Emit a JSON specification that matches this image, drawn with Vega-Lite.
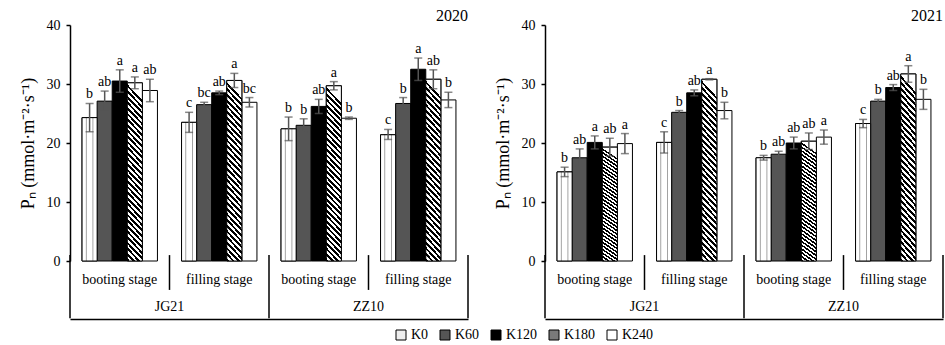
{
  "$schema": "https://vega.github.io/schema/vega-lite/v6.json",
  "padding": {"left": 19, "top": 8, "right": 0, "bottom": 0},
  "data": {"values": [
    {"year": "2020", "group": "JG21 booting", "cultivar": "JG21", "stage": "booting stage", "K": "K0", "mean": 24.3, "lo": 21.9, "hi": 26.7, "sig": "b"},
    {"year": "2020", "group": "JG21 booting", "cultivar": "JG21", "stage": "booting stage", "K": "K60", "mean": 27.1, "lo": 25.4, "hi": 28.8, "sig": "ab"},
    {"year": "2020", "group": "JG21 booting", "cultivar": "JG21", "stage": "booting stage", "K": "K120", "mean": 30.5, "lo": 28.6, "hi": 32.4, "sig": "a"},
    {"year": "2020", "group": "JG21 booting", "cultivar": "JG21", "stage": "booting stage", "K": "K180", "mean": 30.2, "lo": 29.2, "hi": 31.2, "sig": "a"},
    {"year": "2020", "group": "JG21 booting", "cultivar": "JG21", "stage": "booting stage", "K": "K240", "mean": 28.9, "lo": 27.0, "hi": 30.8, "sig": "ab"},
    {"year": "2020", "group": "JG21 filling", "cultivar": "JG21", "stage": "filling stage", "K": "K0", "mean": 23.5, "lo": 21.8, "hi": 25.2, "sig": "c"},
    {"year": "2020", "group": "JG21 filling", "cultivar": "JG21", "stage": "filling stage", "K": "K60", "mean": 26.5, "lo": 26.1, "hi": 26.9, "sig": "bc"},
    {"year": "2020", "group": "JG21 filling", "cultivar": "JG21", "stage": "filling stage", "K": "K120", "mean": 28.5, "lo": 28.2, "hi": 28.8, "sig": "ab"},
    {"year": "2020", "group": "JG21 filling", "cultivar": "JG21", "stage": "filling stage", "K": "K180", "mean": 30.6, "lo": 29.4, "hi": 31.8, "sig": "a"},
    {"year": "2020", "group": "JG21 filling", "cultivar": "JG21", "stage": "filling stage", "K": "K240", "mean": 26.9, "lo": 26.1, "hi": 27.7, "sig": "bc"},
    {"year": "2020", "group": "ZZ10 booting", "cultivar": "ZZ10", "stage": "booting stage", "K": "K0", "mean": 22.4, "lo": 20.4, "hi": 24.4, "sig": "b"},
    {"year": "2020", "group": "ZZ10 booting", "cultivar": "ZZ10", "stage": "booting stage", "K": "K60", "mean": 23.0, "lo": 21.9, "hi": 24.1, "sig": "b"},
    {"year": "2020", "group": "ZZ10 booting", "cultivar": "ZZ10", "stage": "booting stage", "K": "K120", "mean": 26.2, "lo": 25.0, "hi": 27.4, "sig": "ab"},
    {"year": "2020", "group": "ZZ10 booting", "cultivar": "ZZ10", "stage": "booting stage", "K": "K180", "mean": 29.7, "lo": 29.0, "hi": 30.4, "sig": "a"},
    {"year": "2020", "group": "ZZ10 booting", "cultivar": "ZZ10", "stage": "booting stage", "K": "K240", "mean": 24.2, "lo": 24.0, "hi": 24.4, "sig": "b"},
    {"year": "2020", "group": "ZZ10 filling", "cultivar": "ZZ10", "stage": "filling stage", "K": "K0", "mean": 21.4, "lo": 20.6, "hi": 22.3, "sig": "c"},
    {"year": "2020", "group": "ZZ10 filling", "cultivar": "ZZ10", "stage": "filling stage", "K": "K60", "mean": 26.7, "lo": 25.7, "hi": 27.7, "sig": "b"},
    {"year": "2020", "group": "ZZ10 filling", "cultivar": "ZZ10", "stage": "filling stage", "K": "K120", "mean": 32.5, "lo": 30.6, "hi": 34.4, "sig": "a"},
    {"year": "2020", "group": "ZZ10 filling", "cultivar": "ZZ10", "stage": "filling stage", "K": "K180", "mean": 30.8, "lo": 29.2, "hi": 32.4, "sig": "ab"},
    {"year": "2020", "group": "ZZ10 filling", "cultivar": "ZZ10", "stage": "filling stage", "K": "K240", "mean": 27.3, "lo": 26.0, "hi": 28.6, "sig": "b"},
    {"year": "2021", "group": "JG21 booting", "cultivar": "JG21", "stage": "booting stage", "K": "K0", "mean": 15.1, "lo": 14.3, "hi": 15.9, "sig": "b"},
    {"year": "2021", "group": "JG21 booting", "cultivar": "JG21", "stage": "booting stage", "K": "K60", "mean": 17.5, "lo": 16.0, "hi": 19.0, "sig": "ab"},
    {"year": "2021", "group": "JG21 booting", "cultivar": "JG21", "stage": "booting stage", "K": "K120", "mean": 20.1, "lo": 19.0, "hi": 21.2, "sig": "a"},
    {"year": "2021", "group": "JG21 booting", "cultivar": "JG21", "stage": "booting stage", "K": "K180", "mean": 19.3, "lo": 17.8, "hi": 20.8, "sig": "ab"},
    {"year": "2021", "group": "JG21 booting", "cultivar": "JG21", "stage": "booting stage", "K": "K240", "mean": 19.9, "lo": 18.2, "hi": 21.6, "sig": "a"},
    {"year": "2021", "group": "JG21 filling", "cultivar": "JG21", "stage": "filling stage", "K": "K0", "mean": 20.1, "lo": 18.3, "hi": 21.9, "sig": "c"},
    {"year": "2021", "group": "JG21 filling", "cultivar": "JG21", "stage": "filling stage", "K": "K60", "mean": 25.2, "lo": 24.9, "hi": 25.5, "sig": "b"},
    {"year": "2021", "group": "JG21 filling", "cultivar": "JG21", "stage": "filling stage", "K": "K120", "mean": 28.5, "lo": 28.0, "hi": 29.0, "sig": "ab"},
    {"year": "2021", "group": "JG21 filling", "cultivar": "JG21", "stage": "filling stage", "K": "K180", "mean": 30.8, "lo": 30.7, "hi": 30.9, "sig": "a"},
    {"year": "2021", "group": "JG21 filling", "cultivar": "JG21", "stage": "filling stage", "K": "K240", "mean": 25.5, "lo": 24.1, "hi": 26.9, "sig": "b"},
    {"year": "2021", "group": "ZZ10 booting", "cultivar": "ZZ10", "stage": "booting stage", "K": "K0", "mean": 17.5, "lo": 17.1, "hi": 17.9, "sig": "b"},
    {"year": "2021", "group": "ZZ10 booting", "cultivar": "ZZ10", "stage": "booting stage", "K": "K60", "mean": 18.1, "lo": 17.6, "hi": 18.6, "sig": "ab"},
    {"year": "2021", "group": "ZZ10 booting", "cultivar": "ZZ10", "stage": "booting stage", "K": "K120", "mean": 20.0, "lo": 19.0, "hi": 21.0, "sig": "ab"},
    {"year": "2021", "group": "ZZ10 booting", "cultivar": "ZZ10", "stage": "booting stage", "K": "K180", "mean": 20.3, "lo": 18.9, "hi": 21.7, "sig": "ab"},
    {"year": "2021", "group": "ZZ10 booting", "cultivar": "ZZ10", "stage": "booting stage", "K": "K240", "mean": 21.0, "lo": 19.8, "hi": 22.2, "sig": "a"},
    {"year": "2021", "group": "ZZ10 filling", "cultivar": "ZZ10", "stage": "filling stage", "K": "K0", "mean": 23.3, "lo": 22.6, "hi": 24.0, "sig": "c"},
    {"year": "2021", "group": "ZZ10 filling", "cultivar": "ZZ10", "stage": "filling stage", "K": "K60", "mean": 27.1, "lo": 26.8, "hi": 27.4, "sig": "b"},
    {"year": "2021", "group": "ZZ10 filling", "cultivar": "ZZ10", "stage": "filling stage", "K": "K120", "mean": 29.4, "lo": 28.9, "hi": 29.9, "sig": "ab"},
    {"year": "2021", "group": "ZZ10 filling", "cultivar": "ZZ10", "stage": "filling stage", "K": "K180", "mean": 31.7, "lo": 30.3, "hi": 33.1, "sig": "a"},
    {"year": "2021", "group": "ZZ10 filling", "cultivar": "ZZ10", "stage": "filling stage", "K": "K240", "mean": 27.4, "lo": 25.7, "hi": 29.1, "sig": "b"}
  ]},
  "facet": {"column": {"field": "year", "type": "nominal", "header": {"title": null, "labelAnchor": "end", "labelFont": "Liberation Serif", "labelFontSize": 16, "labelColor": "black", "labelPadding": -6}}},
  "spacing": {"column": 25},
  "resolve": {"axis": {"y": "independent"}},
  "spec": {
    "width": 398,
    "height": 236,
    "layer": [
      {
        "mark": {"type": "bar", "stroke": "black", "strokeWidth": 1},
        "encoding": {
          "x": {"field": "group", "type": "nominal", "sort": ["JG21 booting", "JG21 filling", "ZZ10 booting", "ZZ10 filling"], "scale": {"paddingInner": 0, "paddingOuter": 0}, "axis": {"title": null, "labels": false, "ticks": false, "domainColor": "black", "domainWidth": 1.5}},
          "xOffset": {"field": "K", "type": "nominal", "sort": ["K0", "K60", "K120", "K180", "K240"], "scale": {"paddingInner": 0, "paddingOuter": 0.8}},
          "y": {"field": "mean", "type": "quantitative", "scale": {"domain": [0, 40], "nice": false}, "axis": {"title": "Pₙ (mmol·m⁻²·s⁻¹)", "values": [0, 10, 20, 30, 40], "tickSize": 4, "tickWidth": 1.5, "tickColor": "black", "domainColor": "black", "domainWidth": 1.5, "grid": false, "labelFont": "Liberation Serif", "labelFontSize": 14, "labelColor": "black", "labelPadding": 6, "titleFont": "Liberation Serif", "titleFontSize": 18, "titleFontWeight": "normal", "titleColor": "black", "titlePadding": 9}},
          "fill": {"field": "K", "type": "nominal", "scale": {"domain": ["K0", "K60", "K120", "K180", "K240"], "range": ["#eeeeee", "#555555", "#000000", "#7a7a7a", "#ffffff"]}, "legend": {"title": null, "orient": "none", "legendX": 324, "legendY": 303, "direction": "horizontal", "symbolType": "square", "symbolSize": 100, "symbolStrokeColor": "black", "symbolStrokeWidth": 1, "symbolOpacity": 1, "labelFont": "Liberation Serif", "labelFontSize": 14, "labelColor": "black", "columnPadding": 9, "labelOffset": 3}}
        }
      },
      {
        "transform": [{"filter": "datum.K === 'K0'"}],
        "mark": {"type": "bar", "stroke": "black", "strokeWidth": 1, "fill": {"gradient": "linear", "x1": 0, "y1": 0, "x2": 1, "y2": 0, "stops": [
              {"offset": 0, "color": "#ffffff"}, {"offset": 0.22, "color": "#ffffff"}, {"offset": 0.28, "color": "#999999"}, {"offset": 0.34, "color": "#ffffff"},
              {"offset": 0.66, "color": "#ffffff"}, {"offset": 0.72, "color": "#999999"}, {"offset": 0.78, "color": "#ffffff"}, {"offset": 1, "color": "#ffffff"}]}},
        "encoding": {
          "x": {"field": "group", "type": "nominal", "sort": ["JG21 booting", "JG21 filling", "ZZ10 booting", "ZZ10 filling"]},
          "xOffset": {"field": "K", "type": "nominal", "sort": ["K0", "K60", "K120", "K180", "K240"]},
          "y": {"field": "mean", "type": "quantitative"}
        }
      },
      {
        "transform": [{"filter": "datum.K === 'K180'"}],
        "mark": {"type": "bar", "stroke": "black", "strokeWidth": 1, "fill": {"gradient": "linear", "x1": 0, "y1": 1, "x2": 0.09, "y2": 0, "stops": [
              {"offset": 0, "color": "#000"}, {"offset": 0.015625, "color": "#000"}, {"offset": 0.015625, "color": "#fff"}, {"offset": 0.03125, "color": "#fff"},
              {"offset": 0.03125, "color": "#000"}, {"offset": 0.046875, "color": "#000"}, {"offset": 0.046875, "color": "#fff"}, {"offset": 0.0625, "color": "#fff"},
              {"offset": 0.0625, "color": "#000"}, {"offset": 0.078125, "color": "#000"}, {"offset": 0.078125, "color": "#fff"}, {"offset": 0.09375, "color": "#fff"},
              {"offset": 0.09375, "color": "#000"}, {"offset": 0.109375, "color": "#000"}, {"offset": 0.109375, "color": "#fff"}, {"offset": 0.125, "color": "#fff"},
              {"offset": 0.125, "color": "#000"}, {"offset": 0.140625, "color": "#000"}, {"offset": 0.140625, "color": "#fff"}, {"offset": 0.15625, "color": "#fff"},
              {"offset": 0.15625, "color": "#000"}, {"offset": 0.171875, "color": "#000"}, {"offset": 0.171875, "color": "#fff"}, {"offset": 0.1875, "color": "#fff"},
              {"offset": 0.1875, "color": "#000"}, {"offset": 0.203125, "color": "#000"}, {"offset": 0.203125, "color": "#fff"}, {"offset": 0.21875, "color": "#fff"},
              {"offset": 0.21875, "color": "#000"}, {"offset": 0.234375, "color": "#000"}, {"offset": 0.234375, "color": "#fff"}, {"offset": 0.25, "color": "#fff"},
              {"offset": 0.25, "color": "#000"}, {"offset": 0.265625, "color": "#000"}, {"offset": 0.265625, "color": "#fff"}, {"offset": 0.28125, "color": "#fff"},
              {"offset": 0.28125, "color": "#000"}, {"offset": 0.296875, "color": "#000"}, {"offset": 0.296875, "color": "#fff"}, {"offset": 0.3125, "color": "#fff"},
              {"offset": 0.3125, "color": "#000"}, {"offset": 0.328125, "color": "#000"}, {"offset": 0.328125, "color": "#fff"}, {"offset": 0.34375, "color": "#fff"},
              {"offset": 0.34375, "color": "#000"}, {"offset": 0.359375, "color": "#000"}, {"offset": 0.359375, "color": "#fff"}, {"offset": 0.375, "color": "#fff"},
              {"offset": 0.375, "color": "#000"}, {"offset": 0.390625, "color": "#000"}, {"offset": 0.390625, "color": "#fff"}, {"offset": 0.40625, "color": "#fff"},
              {"offset": 0.40625, "color": "#000"}, {"offset": 0.421875, "color": "#000"}, {"offset": 0.421875, "color": "#fff"}, {"offset": 0.4375, "color": "#fff"},
              {"offset": 0.4375, "color": "#000"}, {"offset": 0.453125, "color": "#000"}, {"offset": 0.453125, "color": "#fff"}, {"offset": 0.46875, "color": "#fff"},
              {"offset": 0.46875, "color": "#000"}, {"offset": 0.484375, "color": "#000"}, {"offset": 0.484375, "color": "#fff"}, {"offset": 0.5, "color": "#fff"},
              {"offset": 0.5, "color": "#000"}, {"offset": 0.515625, "color": "#000"}, {"offset": 0.515625, "color": "#fff"}, {"offset": 0.53125, "color": "#fff"},
              {"offset": 0.53125, "color": "#000"}, {"offset": 0.546875, "color": "#000"}, {"offset": 0.546875, "color": "#fff"}, {"offset": 0.5625, "color": "#fff"},
              {"offset": 0.5625, "color": "#000"}, {"offset": 0.578125, "color": "#000"}, {"offset": 0.578125, "color": "#fff"}, {"offset": 0.59375, "color": "#fff"},
              {"offset": 0.59375, "color": "#000"}, {"offset": 0.609375, "color": "#000"}, {"offset": 0.609375, "color": "#fff"}, {"offset": 0.625, "color": "#fff"},
              {"offset": 0.625, "color": "#000"}, {"offset": 0.640625, "color": "#000"}, {"offset": 0.640625, "color": "#fff"}, {"offset": 0.65625, "color": "#fff"},
              {"offset": 0.65625, "color": "#000"}, {"offset": 0.671875, "color": "#000"}, {"offset": 0.671875, "color": "#fff"}, {"offset": 0.6875, "color": "#fff"},
              {"offset": 0.6875, "color": "#000"}, {"offset": 0.703125, "color": "#000"}, {"offset": 0.703125, "color": "#fff"}, {"offset": 0.71875, "color": "#fff"},
              {"offset": 0.71875, "color": "#000"}, {"offset": 0.734375, "color": "#000"}, {"offset": 0.734375, "color": "#fff"}, {"offset": 0.75, "color": "#fff"},
              {"offset": 0.75, "color": "#000"}, {"offset": 0.765625, "color": "#000"}, {"offset": 0.765625, "color": "#fff"}, {"offset": 0.78125, "color": "#fff"},
              {"offset": 0.78125, "color": "#000"}, {"offset": 0.796875, "color": "#000"}, {"offset": 0.796875, "color": "#fff"}, {"offset": 0.8125, "color": "#fff"},
              {"offset": 0.8125, "color": "#000"}, {"offset": 0.828125, "color": "#000"}, {"offset": 0.828125, "color": "#fff"}, {"offset": 0.84375, "color": "#fff"},
              {"offset": 0.84375, "color": "#000"}, {"offset": 0.859375, "color": "#000"}, {"offset": 0.859375, "color": "#fff"}, {"offset": 0.875, "color": "#fff"},
              {"offset": 0.875, "color": "#000"}, {"offset": 0.890625, "color": "#000"}, {"offset": 0.890625, "color": "#fff"}, {"offset": 0.90625, "color": "#fff"},
              {"offset": 0.90625, "color": "#000"}, {"offset": 0.921875, "color": "#000"}, {"offset": 0.921875, "color": "#fff"}, {"offset": 0.9375, "color": "#fff"},
              {"offset": 0.9375, "color": "#000"}, {"offset": 0.953125, "color": "#000"}, {"offset": 0.953125, "color": "#fff"}, {"offset": 0.96875, "color": "#fff"},
              {"offset": 0.96875, "color": "#000"}, {"offset": 0.984375, "color": "#000"}, {"offset": 0.984375, "color": "#fff"}, {"offset": 1, "color": "#fff"}]}},
        "encoding": {
          "x": {"field": "group", "type": "nominal", "sort": ["JG21 booting", "JG21 filling", "ZZ10 booting", "ZZ10 filling"]},
          "xOffset": {"field": "K", "type": "nominal", "sort": ["K0", "K60", "K120", "K180", "K240"]},
          "y": {"field": "mean", "type": "quantitative"}
        }
      },
      {
        "mark": {"type": "rule", "color": "#555555", "strokeWidth": 1.5},
        "encoding": {
          "x": {"field": "group", "type": "nominal", "sort": ["JG21 booting", "JG21 filling", "ZZ10 booting", "ZZ10 filling"]},
          "xOffset": {"field": "K", "type": "nominal", "sort": ["K0", "K60", "K120", "K180", "K240"]},
          "y": {"field": "lo", "type": "quantitative"},
          "y2": {"field": "hi"}
        }
      },
      {
        "mark": {"type": "tick", "color": "#555555", "size": 8, "thickness": 1.5},
        "encoding": {
          "x": {"field": "group", "type": "nominal", "sort": ["JG21 booting", "JG21 filling", "ZZ10 booting", "ZZ10 filling"]},
          "xOffset": {"field": "K", "type": "nominal", "sort": ["K0", "K60", "K120", "K180", "K240"]},
          "y": {"field": "lo", "type": "quantitative"}
        }
      },
      {
        "mark": {"type": "tick", "color": "#555555", "size": 8, "thickness": 1.5},
        "encoding": {
          "x": {"field": "group", "type": "nominal", "sort": ["JG21 booting", "JG21 filling", "ZZ10 booting", "ZZ10 filling"]},
          "xOffset": {"field": "K", "type": "nominal", "sort": ["K0", "K60", "K120", "K180", "K240"]},
          "y": {"field": "hi", "type": "quantitative"}
        }
      },
      {
        "mark": {"type": "text", "font": "Liberation Serif", "fontSize": 14, "color": "black", "baseline": "alphabetic", "dy": -5},
        "encoding": {
          "x": {"field": "group", "type": "nominal", "sort": ["JG21 booting", "JG21 filling", "ZZ10 booting", "ZZ10 filling"]},
          "xOffset": {"field": "K", "type": "nominal", "sort": ["K0", "K60", "K120", "K180", "K240"]},
          "y": {"field": "hi", "type": "quantitative"},
          "text": {"field": "sig"}
        }
      },
      {
        "transform": [{"filter": "datum.K === 'K0' && datum.stage === 'filling stage'"}],
        "mark": {"type": "rule", "color": "black", "strokeWidth": 1.5},
        "encoding": {
          "x": {"field": "group", "type": "nominal", "sort": ["JG21 booting", "JG21 filling", "ZZ10 booting", "ZZ10 filling"], "bandPosition": 0},
          "y": {"datum": 1, "type": "quantitative"},
          "y2": {"datum": -4.9}
        }
      },
      {
        "transform": [{"filter": "datum.K === 'K0' && datum.stage === 'booting stage'"}],
        "mark": {"type": "rule", "color": "black", "strokeWidth": 1.5},
        "encoding": {
          "x": {"field": "group", "type": "nominal", "sort": ["JG21 booting", "JG21 filling", "ZZ10 booting", "ZZ10 filling"], "bandPosition": 0},
          "y": {"datum": 1, "type": "quantitative"},
          "y2": {"datum": -9.7}
        }
      },
      {
        "transform": [{"filter": "datum.K === 'K0' && datum.group === 'ZZ10 filling'"}],
        "mark": {"type": "rule", "color": "black", "strokeWidth": 1.5},
        "encoding": {
          "x": {"field": "group", "type": "nominal", "sort": ["JG21 booting", "JG21 filling", "ZZ10 booting", "ZZ10 filling"], "bandPosition": 1},
          "y": {"datum": 1, "type": "quantitative"},
          "y2": {"datum": -9.7}
        }
      },
      {
        "transform": [{"filter": "datum.K === 'K0'"}],
        "mark": {"type": "text", "font": "Liberation Serif", "fontSize": 14, "color": "black", "baseline": "middle"},
        "encoding": {
          "x": {"field": "group", "type": "nominal", "sort": ["JG21 booting", "JG21 filling", "ZZ10 booting", "ZZ10 filling"]},
          "y": {"datum": -3.2, "type": "quantitative"},
          "text": {"field": "stage"}
        }
      },
      {
        "transform": [{"filter": "datum.K === 'K0' && datum.stage === 'filling stage'"}],
        "mark": {"type": "text", "font": "Liberation Serif", "fontSize": 14, "color": "black", "baseline": "middle"},
        "encoding": {
          "x": {"field": "group", "type": "nominal", "sort": ["JG21 booting", "JG21 filling", "ZZ10 booting", "ZZ10 filling"], "bandPosition": 0},
          "y": {"datum": -7.8, "type": "quantitative"},
          "text": {"field": "cultivar"}
        }
      }
    ]
  },
  "config": {"view": {"stroke": null}, "font": "Liberation Serif"}
}
